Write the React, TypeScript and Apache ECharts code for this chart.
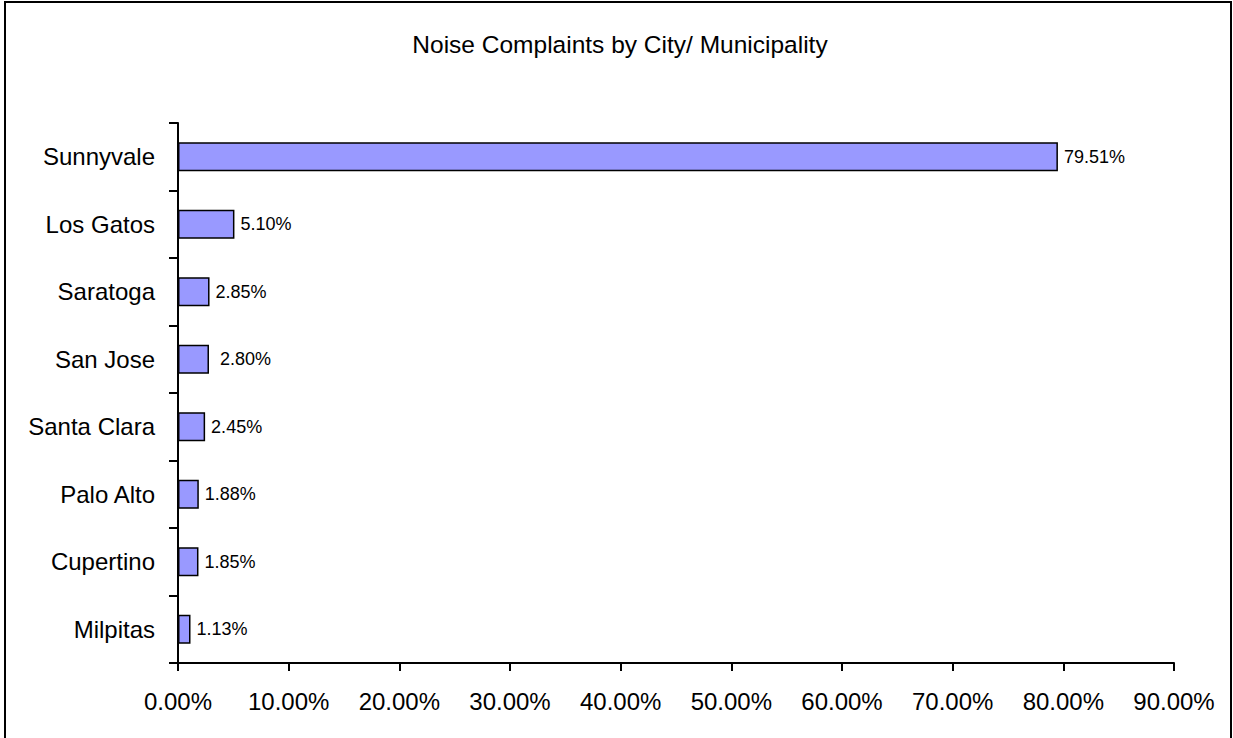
import React, { useEffect, useRef } from "react";
import * as echarts from "echarts";

const titleText = "Noise Complaints by City/ Municipality";
const categories = ["Sunnyvale", "Los Gatos", "Saratoga", "San Jose", "Santa Clara", "Palo Alto", "Cupertino", "Milpitas"];
const values = [79.51, 5.1, 2.85, 2.8, 2.45, 1.88, 1.85, 1.13];
const valueLabels = ["79.51%", "5.10%", "2.85%", " 2.80%", "2.45%", "1.88%", "1.85%", "1.13%"];

const FONT = "'Liberation Sans', Arial, sans-serif";

export default function App() {
  const ref = useRef<HTMLDivElement>(null);
  useEffect(() => {
    if (!ref.current) return;
    const chart = echarts.init(ref.current, null, { renderer: "svg" });
    chart.setOption({
      animation: false,
      backgroundColor: "#ffffff",
      title: {
        text: titleText,
        left: 615,
        textAlign: "center",
        top: 27,
        textStyle: { fontFamily: FONT, fontSize: 24.5, fontWeight: "normal", color: "#000" },
      },
      graphic: [
        {
          type: "rect",
          shape: { x: 5, y: 2, width: 1226, height: 760 },
          style: { fill: "none", stroke: "#000", lineWidth: 2 },
          silent: true,
        },
      ],
      grid: { left: 178, right: 59, top: 123, bottom: 75, containLabel: false },
      xAxis: {
        type: "value",
        min: 0,
        max: 90,
        interval: 10,
        axisLine: { show: true, lineStyle: { color: "#000", width: 2 } },
        axisTick: { show: true, length: 8, lineStyle: { color: "#000", width: 2 } },
        splitLine: { show: false },
        axisLabel: {
          margin: 26,
          fontFamily: FONT,
          fontSize: 24,
          color: "#000",
          formatter: (v: number) => v.toFixed(2) + "%",
        },
      },
      yAxis: {
        type: "category",
        data: categories,
        inverse: true,
        axisLine: { show: true, lineStyle: { color: "#000", width: 2 } },
        axisTick: { show: true, length: 9, alignWithLabel: false, lineStyle: { color: "#000", width: 2 } },
        axisLabel: { margin: 23, fontFamily: FONT, fontSize: 24, color: "#000", padding: [4, 0, 0, 0] },
      },
      series: [
        {
          type: "bar",
          data: values,
          barWidth: 29,
          itemStyle: { color: "#9999FF", borderColor: "#000", borderWidth: 1.5 },
          label: {
            show: true,
            position: "right",
            distance: 6,
            fontFamily: FONT,
            fontSize: 18,
            color: "#000",
            formatter: (p: any) => valueLabels[p.dataIndex],
          },
        },
      ],
    });
    return () => chart.dispose();
  }, []);
  return <div ref={ref} style={{ position: "absolute", left: 0, top: 0, width: 1233, height: 738 }} />;
}
